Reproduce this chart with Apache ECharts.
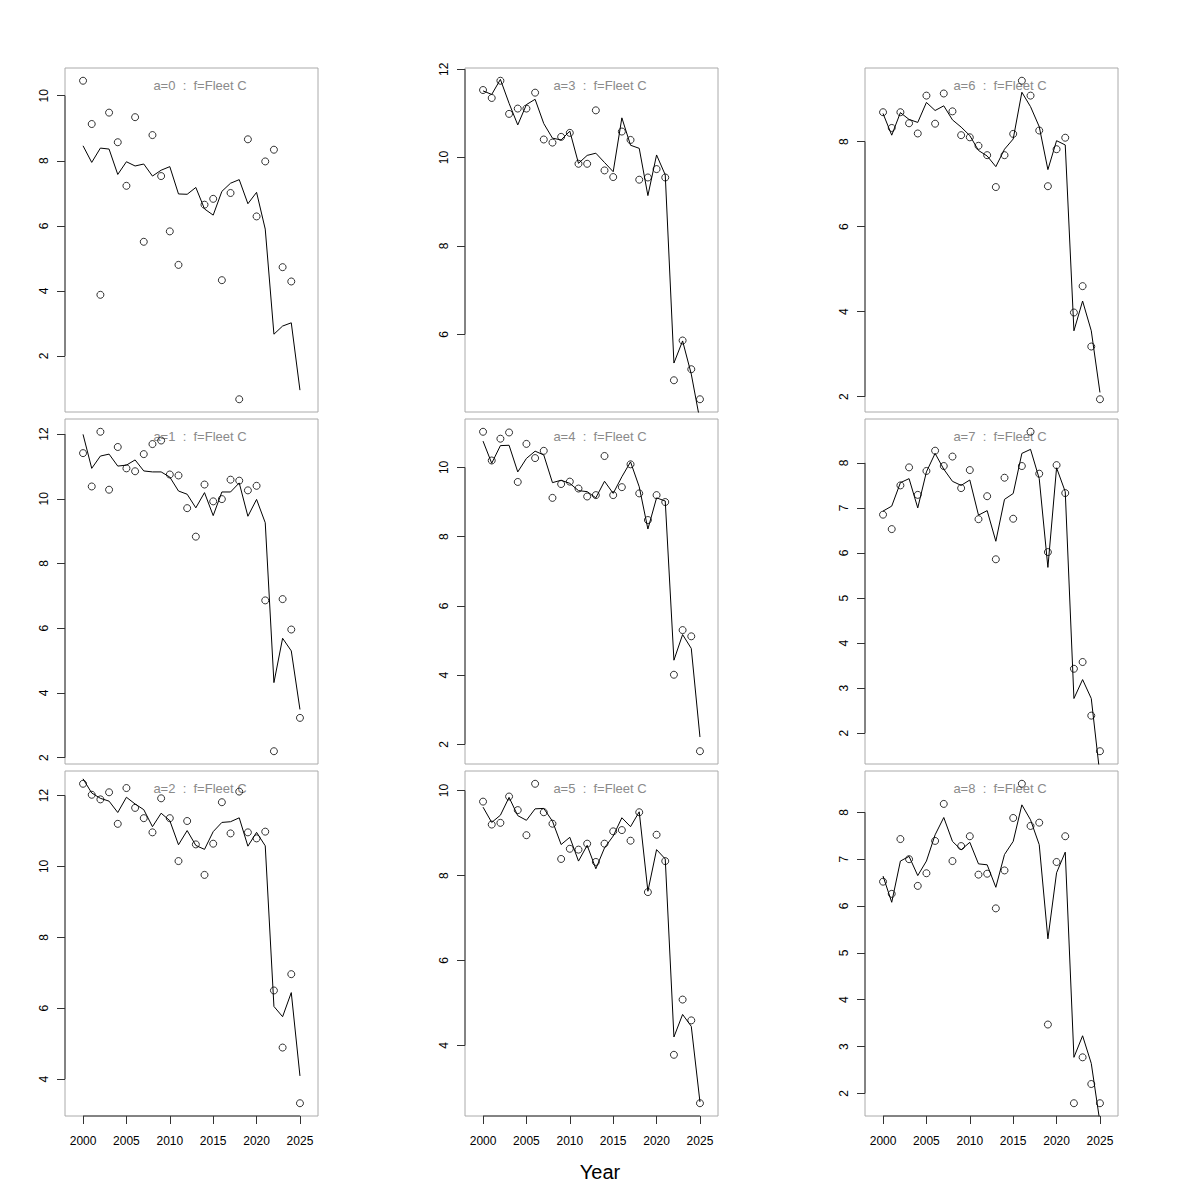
<!DOCTYPE html>
<html><head><meta charset="utf-8">
<script src="https://cdn.jsdelivr.net/npm/echarts@6/dist/echarts.min.js"></script>
<style>html,body{margin:0;padding:0;background:#fff}#c{width:1200px;height:1200px}</style>
</head><body><div id="c"></div>
<script>
const years = [2000,2001,2002,2003,2004,2005,2006,2007,2008,2009,2010,2011,2012,2013,2014,2015,2016,2017,2018,2019,2020,2021,2022,2023,2024,2025];
const xTicks = [2000,2005,2010,2015,2020,2025];
const panelLabels = ['a=0  :  f=Fleet C','a=1  :  f=Fleet C','a=2  :  f=Fleet C','a=3  :  f=Fleet C','a=4  :  f=Fleet C','a=5  :  f=Fleet C','a=6  :  f=Fleet C','a=7  :  f=Fleet C','a=8  :  f=Fleet C'];
const xTitle = 'Year';

const obsA0 = [10.46,9.13,3.88,9.48,8.57,7.23,9.34,5.51,8.79,7.53,5.83,4.80,null,null,6.65,6.83,4.33,7.01,0.67,8.66,6.29,7.98,8.34,4.73,4.29,null];
const fitA0 = [8.46,7.95,8.39,8.36,7.58,7.97,7.84,7.90,7.53,7.71,7.82,6.98,6.97,7.18,6.52,6.33,7.06,7.31,7.42,6.68,7.03,5.90,2.67,2.92,3.02,0.95];
const obsA1 = [11.41,10.38,12.07,10.28,11.60,10.94,10.85,11.38,11.69,11.80,10.75,10.72,9.71,8.83,10.44,9.92,9.99,10.59,10.56,10.26,10.40,6.86,2.20,6.90,5.96,3.23];
const fitA1 = [11.99,10.94,11.32,11.38,11.01,11.04,11.20,10.86,10.83,10.83,10.67,10.24,10.14,9.72,10.19,9.48,10.21,10.21,10.49,9.46,9.98,9.26,4.32,5.69,5.30,3.49];
const obsA2 = [12.33,12.02,11.89,12.09,11.20,12.21,11.65,11.36,10.96,11.92,11.36,10.15,11.28,10.62,9.76,10.64,11.81,10.93,12.11,10.96,10.79,10.98,6.50,4.89,6.96,3.32];
const fitA2 = [12.47,12.07,11.92,11.84,11.52,11.95,11.76,11.60,11.12,11.50,11.29,10.61,11.01,10.59,10.48,10.98,11.24,11.26,11.37,10.57,10.96,10.58,6.05,5.76,6.44,4.09];
const obsA3 = [11.53,11.35,11.74,10.99,11.11,11.11,11.47,10.41,10.34,10.47,10.56,9.86,9.86,11.07,9.71,9.56,10.59,10.40,9.50,9.55,9.74,9.55,4.96,5.86,5.21,4.53];
const fitA3 = [11.51,11.43,11.77,11.23,10.74,11.20,11.32,10.77,10.44,10.40,10.60,9.87,10.05,10.10,9.89,9.68,10.90,10.28,10.21,9.14,10.06,9.61,5.35,5.85,5.10,4.05];
const obsA4 = [11.03,10.20,10.83,11.01,9.58,10.68,10.27,10.48,9.12,9.52,9.59,9.39,9.16,9.20,10.33,9.20,9.43,10.09,9.25,8.48,9.20,9.00,4.01,5.30,5.12,1.80];
const fitA4 = [10.76,10.12,10.63,10.64,9.87,10.26,10.47,10.36,9.56,9.63,9.54,9.33,9.30,9.12,9.60,9.25,9.73,10.16,9.44,8.22,9.12,9.03,4.43,5.17,4.77,2.21];
const obsA5 = [9.74,9.20,9.24,9.86,9.54,8.95,10.16,9.49,9.22,8.39,8.63,8.61,8.75,8.32,8.75,9.04,9.07,8.82,9.49,7.61,8.96,8.34,3.78,5.08,4.59,2.64];
const fitA5 = [9.61,9.25,9.42,9.84,9.41,9.30,9.57,9.58,9.28,8.73,8.90,8.34,8.71,8.16,8.65,8.93,9.36,9.15,9.50,7.63,8.61,8.39,4.20,4.73,4.45,2.67];
const obsA6 = [8.69,8.32,8.69,8.43,8.19,9.08,8.42,9.13,8.71,8.15,8.10,7.90,7.68,6.93,7.68,8.18,9.43,9.08,8.26,6.95,7.82,8.09,3.98,4.60,3.18,1.94];
const fitA6 = [8.66,8.15,8.68,8.52,8.45,8.92,8.73,8.84,8.51,8.34,8.14,7.79,7.66,7.41,7.82,8.06,9.16,8.82,8.35,7.34,8.02,7.92,3.55,4.25,3.55,2.10];
const obsA7 = [6.85,6.53,7.50,7.90,7.29,7.82,8.27,7.93,8.14,7.44,7.84,6.75,7.26,5.86,7.67,6.76,7.93,8.69,7.76,6.02,7.95,7.33,3.43,3.58,2.39,1.60];
const fitA7 = [6.93,7.04,7.56,7.65,7.00,7.80,8.21,7.86,7.59,7.50,7.62,6.84,6.94,6.26,7.19,7.32,8.21,8.30,7.65,5.68,7.89,7.36,2.77,3.19,2.77,1.07];
const obsA8 = [6.52,6.26,7.43,7.00,6.43,6.70,7.39,8.18,6.96,7.28,7.49,6.67,6.69,5.95,6.76,7.88,8.61,7.71,7.78,3.47,6.94,7.49,1.79,2.77,2.20,1.79];
const fitA8 = [6.64,6.08,6.96,7.06,6.65,6.96,7.52,7.89,7.38,7.20,7.36,6.90,6.88,6.40,7.10,7.38,8.16,7.84,7.31,5.30,6.71,7.15,2.77,3.23,2.64,1.38];

const yTicksA0 = [2,4,6,8,10];
const yTicksA1 = [2,4,6,8,10,12];
const yTicksA2 = [4,6,8,10,12];
const yTicksA3 = [6,8,10,12];
const yTicksA4 = [2,4,6,8,10];
const yTicksA5 = [4,6,8,10];
const yTicksA6 = [2,4,6,8];
const yTicksA7 = [2,3,4,5,6,7,8];
const yTicksA8 = [2,3,4,5,6,7,8];

const obsList = [obsA0,obsA1,obsA2,obsA3,obsA4,obsA5,obsA6,obsA7,obsA8];
const fitList = [fitA0,fitA1,fitA2,fitA3,fitA4,fitA5,fitA6,fitA7,fitA8];
const yTickList = [yTicksA0,yTicksA1,yTicksA2,yTicksA3,yTicksA4,yTicksA5,yTicksA6,yTicksA7,yTicksA8];

// layout
const FONT = '"Liberation Sans", Arial, Helvetica, sans-serif';
const colLeft = [65, 465, 865];
const rowTop = [68, 419, 771];
const rowH = [344, 345, 345];
const W = 253;
// R-style 4% extension of x range (1999..2026)
const xr0 = years[0] - 1, xr1 = years[years.length - 1] + 1;
const X_MIN = xr0 - 0.04 * (xr1 - xr0), X_MAX = xr1 + 0.04 * (xr1 - xr0);
const plain = v => String(v);

const grid = [], xAxis = [], yAxis = [], series = [], graphic = [];
for (let i = 0; i < 9; i++) {
  const col = Math.floor(i / 3), row = i % 3;
  const vals = obsList[i].filter(v => v != null);
  const lo = Math.min(...vals), hi = Math.max(...vals);
  const pad = 0.04 * (hi - lo);
  const yMin = lo - pad, yMax = hi + pad;
  const yT = yTickList[i];
  const bottom = row === 2;
  grid.push({left: colLeft[col], top: rowTop[row], width: W, height: rowH[row],
    show: true, borderColor: '#aaaaaa', borderWidth: 1, backgroundColor: 'transparent', containLabel: false});
  xAxis.push({type: 'value', gridIndex: i, min: X_MIN, max: X_MAX,
    axisLine: {show: false}, splitLine: {show: false},
    axisTick: {show: bottom, customValues: xTicks, length: 8, inside: false, lineStyle: {color: '#333', width: 1}},
    axisLabel: {show: bottom, customValues: xTicks, formatter: plain, margin: 19, fontSize: 12, color: '#000', fontFamily: FONT}});
  yAxis.push({type: 'value', gridIndex: i, min: yMin, max: yMax,
    axisLine: {show: false}, splitLine: {show: false},
    axisTick: {show: true, customValues: yT, length: 8, inside: false, lineStyle: {color: '#333', width: 1}},
    axisLabel: {show: true, customValues: yT, formatter: plain, rotate: 90, margin: 15, fontSize: 12, color: '#000', fontFamily: FONT}});
  series.push({type: 'line', xAxisIndex: i, yAxisIndex: i, silent: true, animation: false,
    data: years.map((y, k) => [y, fitList[i][k]]), showSymbol: false, symbol: 'none',
    lineStyle: {color: '#000', width: 1}, clip: true, z: 3});
  series.push({type: 'scatter', xAxisIndex: i, yAxisIndex: i, silent: true, animation: false,
    data: years.map((y, k) => [y, obsList[i][k]]).filter(d => d[1] != null),
    symbol: 'circle', symbolSize: 7,
    itemStyle: {color: 'rgba(0,0,0,0)', borderColor: '#000', borderWidth: 1}, z: 4});
  // axis line along box edge, spanning first..last tick (R style)
  series.push({type: 'line', xAxisIndex: i, yAxisIndex: i, silent: true, animation: false, clip: false,
    data: [[X_MIN, yT[0]], [X_MIN, yT[yT.length - 1]]], symbol: 'none',
    lineStyle: {color: '#333', width: 1}, z: 5});
  if (bottom) {
    series.push({type: 'line', xAxisIndex: i, yAxisIndex: i, silent: true, animation: false, clip: false,
      data: [[xTicks[0], yMin], [xTicks[xTicks.length - 1], yMin]], symbol: 'none',
      lineStyle: {color: '#333', width: 1}, z: 5});
  }
  graphic.push({type: 'text', x: colLeft[col] + 135, y: rowTop[row] + 17, silent: true,
    style: {text: panelLabels[i], fill: '#8a8a8a', font: '13px ' + FONT,
      textAlign: 'center', textVerticalAlign: 'middle', align: 'center', verticalAlign: 'middle'}});
}
graphic.push({type: 'text', x: 600, y: 1172, silent: true,
  style: {text: xTitle, fill: '#000', font: '20px ' + FONT,
    textAlign: 'center', textVerticalAlign: 'middle', align: 'center', verticalAlign: 'middle'}});

const chart = echarts.init(document.getElementById('c'), null, {renderer: 'svg', width: 1200, height: 1200});
chart.setOption({animation: false, backgroundColor: '#fff', grid, xAxis, yAxis, series, graphic});
</script>
</body></html>
